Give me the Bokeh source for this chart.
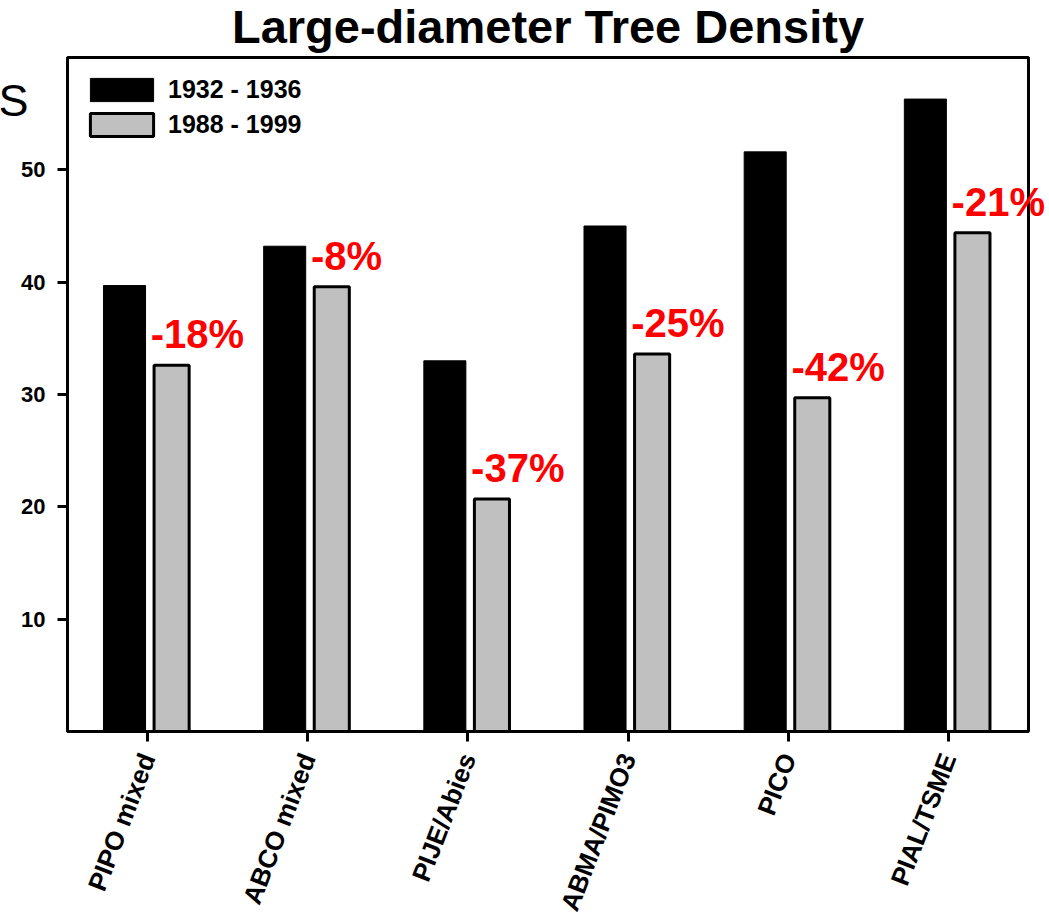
import numpy as np
from bokeh.plotting import figure
from bokeh.models import (ColumnDataSource, Range1d, FixedTicker, Legend, LegendItem,
                          LabelSet, Label)
from bokeh.core.properties import value
from bokeh.embed import file_html
from bokeh.resources import INLINE

categories = ["PIPO mixed", "ABCO mixed", "PIJE/Abies", "ABMA/PIMO3", "PICO", "PIAL/TSME"]
density_1932_1936 = [39.7, 43.2, 33.0, 45.0, 51.6, 56.3]
density_1988_1999 = [32.6, 39.6, 20.7, 33.6, 29.7, 44.4]
pct_change = ["-18%", "-8%", "-37%", "-25%", "-42%", "-21%"]
series_names = ["1932 - 1936", "1988 - 1999"]
y_ticks = [10, 20, 30, 40, 50]
title_text = "Large-diameter Tree Density"

# axis box limits (data units)
X_MIN, X_MAX = 0, 6
Y_MIN, Y_MAX = 0, 60

FONT = "Liberation Sans"
W, H = 1049, 917
# pixel placement of the axis box inside the canvas
BOX_L, BOX_R, BOX_T, BOX_B = 67, 1028, 57, 731
xs = (BOX_R - BOX_L) / (X_MAX - X_MIN)
ys = (BOX_B - BOX_T) / (Y_MAX - Y_MIN)
x_range = Range1d(X_MIN - BOX_L / xs, X_MAX + (W - BOX_R) / xs)
y_range = Range1d(Y_MIN - (H - BOX_B) / ys, Y_MAX + BOX_T / ys)

centers = np.arange(len(categories)) + 0.5

src = ColumnDataSource(dict(
    x_old=centers - 0.144,
    x_new=centers + 0.15,
    x_lab=centers + 0.02,
    old=density_1932_1936,
    new=density_1988_1999,
    pct=pct_change,
))

p = figure(width=W, height=H, output_backend="svg", toolbar_location=None,
           x_range=x_range, y_range=y_range,
           min_border=0, min_border_left=0, min_border_right=0,
           min_border_top=0, min_border_bottom=0)
p.title.visible = False
p.background_fill_color = "white"
p.border_fill_color = "white"
p.outline_line_color = None
p.xgrid.visible = False
p.ygrid.visible = False

# plot box
p.quad(left=X_MIN, right=X_MAX, bottom=Y_MIN, top=Y_MAX, fill_alpha=0,
       line_color="black", line_width=3)

r_old = p.vbar(x="x_old", top="old", bottom=0, width=0.2625, source=src,
               fill_color="black", line_color="black", line_width=1)
r_new = p.vbar(x="x_new", top="new", bottom=0, width=0.219, source=src,
               fill_color="#c0c0c0", line_color="black", line_width=3)

labels = LabelSet(x="x_lab", y="new", text="pct", source=src, y_offset=17,
                  text_align="left", text_baseline="alphabetic",
                  text_color="#ff0000", text_font=value(FONT), text_font_style="bold",
                  text_font_size="40px")
p.add_layout(labels)

# axes (drawn at the box edges)
p.yaxis.fixed_location = X_MIN
p.yaxis.bounds = (Y_MIN, Y_MAX)
p.yaxis.ticker = FixedTicker(ticks=y_ticks)
p.yaxis.axis_line_width = 3
p.yaxis.major_tick_line_width = 3
p.yaxis.major_tick_in = 0
p.yaxis.major_tick_out = 10
p.yaxis.minor_tick_line_color = None
p.yaxis.major_label_text_font = FONT
p.yaxis.major_label_text_font_style = "bold"
p.yaxis.major_label_text_font_size = "22px"
p.yaxis.major_label_text_color = "black"
p.yaxis.major_label_standoff = 12

p.xaxis.fixed_location = Y_MIN
p.xaxis.bounds = (X_MIN, X_MAX)
p.xaxis.ticker = FixedTicker(ticks=list(centers))
p.xaxis.major_label_overrides = {float(c): n for c, n in zip(centers, categories)}
p.xaxis.axis_line_width = 3
p.xaxis.major_tick_line_width = 3
p.xaxis.major_tick_in = 0
p.xaxis.major_tick_out = 10
p.xaxis.minor_tick_line_color = None
p.xaxis.major_label_orientation = np.deg2rad(69)
p.xaxis.major_label_text_font = FONT
p.xaxis.major_label_text_font_style = "bold"
p.xaxis.major_label_text_font_size = "26px"
p.xaxis.major_label_text_color = "black"
p.xaxis.major_label_standoff = 13

legend = Legend(items=[LegendItem(label=series_names[0], renderers=[r_old]),
                       LegendItem(label=series_names[1], renderers=[r_new])],
                location=(82, H - 75 - 64))
legend.glyph_width = 79
legend.glyph_height = 29
legend.label_standoff = 7
legend.spacing = 6
legend.padding = 0
legend.margin = 0
legend.border_line_alpha = 0
legend.background_fill_alpha = 0
legend.label_text_font = FONT
legend.label_text_font_style = "bold"
legend.label_text_font_size = "25px"
legend.label_text_color = "black"
legend.label_height = 29
p.add_layout(legend)

title = Label(x=(X_MIN + X_MAX) / 2, y=Y_MAX, text=title_text, text_align="center",
              text_baseline="alphabetic", y_offset=31, text_font=FONT,
              text_font_style="bold", text_font_size="47px", text_color="black")
p.add_layout(title)

s_label = Label(x=X_MIN, y=Y_MAX, x_offset=-69, y_offset=-43, text="S", text_align="left",
                text_baseline="alphabetic", text_font=FONT, text_font_size="45px",
                text_color="black")
p.add_layout(s_label)

open("out.html", "w").write(file_html(p, INLINE))
